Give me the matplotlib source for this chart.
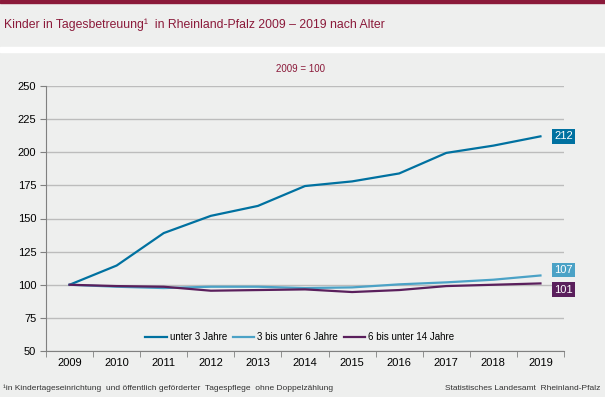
import matplotlib.pyplot as plt
from matplotlib.patches import Rectangle

years = ["2009", "2010", "2011", "2012", "2013", "2014", "2015", "2016", "2017", "2018", "2019"]
unter3 = [100, 114.5, 139, 152, 159.5, 174.5, 178, 184, 199.5, 205, 212]
drei_bis6 = [100, 98.5, 97.5, 98.5, 98.5, 97.5, 98, 100.3, 101.8, 103.8, 107]
sechs_bis14 = [100, 99, 98.5, 95.5, 96, 96.5, 94.5, 96, 99, 100, 101]
labels = ["unter 3 Jahre", "3 bis unter 6 Jahre", "6 bis unter 14 Jahre"]
colors = ["#0071a0", "#4ba2c6", "#5a1f5c"]
label_dy = [0, 4, -4.5]  # vertical shift of end labels (points)

plt.rcParams["font.family"] = ["Liberation Sans", "DejaVu Sans"]
bg = "#eeefee"
red = "#8b1a3a"

fig = plt.figure(figsize=(6.05, 3.97), dpi=100)
fig.patch.set_facecolor(bg)
# top border and white separator
fig.patches.append(Rectangle((0, 1 - 2.5 / 397), 1, 2.5 / 397, transform=fig.transFigure, color=red, zorder=0))
fig.patches.append(Rectangle((0, 1 - 52 / 397), 1, 5 / 397, transform=fig.transFigure, color="white", zorder=0))

fig.text(4 / 605, 1 - 25 / 397, "Kinder in Tagesbetreuung\u00b9  in Rheinland-Pfalz 2009 \u2013 2019 nach Alter",
         color=red, fontsize=8.8, va="center", ha="left")
fig.text(300 / 605, 1 - 69 / 397, "2009 = 100", color=red, fontsize=7, ha="center", va="center")

ax = fig.add_axes([46 / 605, 1 - 351 / 397, 518 / 605, 265 / 397])
ax.set_facecolor(bg)
x = list(range(len(years)))
series = [unter3, drei_bis6, sechs_bis14]
for vals, lab, c, dy in zip(series, labels, colors, label_dy):
    ax.plot(x, vals, color=c, lw=1.6, label=lab, zorder=3)
    ax.annotate(f"{vals[-1]:.0f}", (x[-1], vals[-1]), xytext=(10, dy), textcoords="offset points",
                color="white", fontsize=8, ha="left", va="center", zorder=4,
                bbox=dict(boxstyle="square,pad=0.2", fc=c, ec="none"))

ax.set_xlim(-0.5, 10.5)
ax.set_ylim(50, 250)
ax.set_yticks(range(50, 251, 25))
ax.set_xticks(x)
ax.set_xticklabels(years)
ax.set_xticks([i - 0.5 for i in range(12)], minor=True)
ax.tick_params(axis="x", which="major", length=0, pad=5, labelsize=8)
ax.tick_params(axis="x", which="minor", length=4, color="#808080")
ax.tick_params(axis="y", length=4, color="#808080", labelsize=8, pad=3)
ax.grid(axis="y", color="#bcbcbc", lw=1)
for s in ["top", "right"]:
    ax.spines[s].set_visible(False)
for s in ["left", "bottom"]:
    ax.spines[s].set_color("#808080")

ax.legend(loc="lower center", bbox_to_anchor=(0.49, 0.0), ncol=3, frameon=False, fontsize=7,
          handlelength=2.2, handletextpad=0.3, columnspacing=0.6)

fig.text(3 / 605, 1 - 388 / 397, "\u00b9in Kindertageseinrichtung  und öffentlich geförderter  Tagespflege  ohne Doppelzählung",
         fontsize=6, color="#333333", ha="left", va="center")
fig.text(600 / 605, 1 - 388 / 397, "Statistisches Landesamt  Rheinland-Pfalz",
         fontsize=6, color="#333333", ha="right", va="center")

fig.savefig("out.png", dpi=100, facecolor=bg)
